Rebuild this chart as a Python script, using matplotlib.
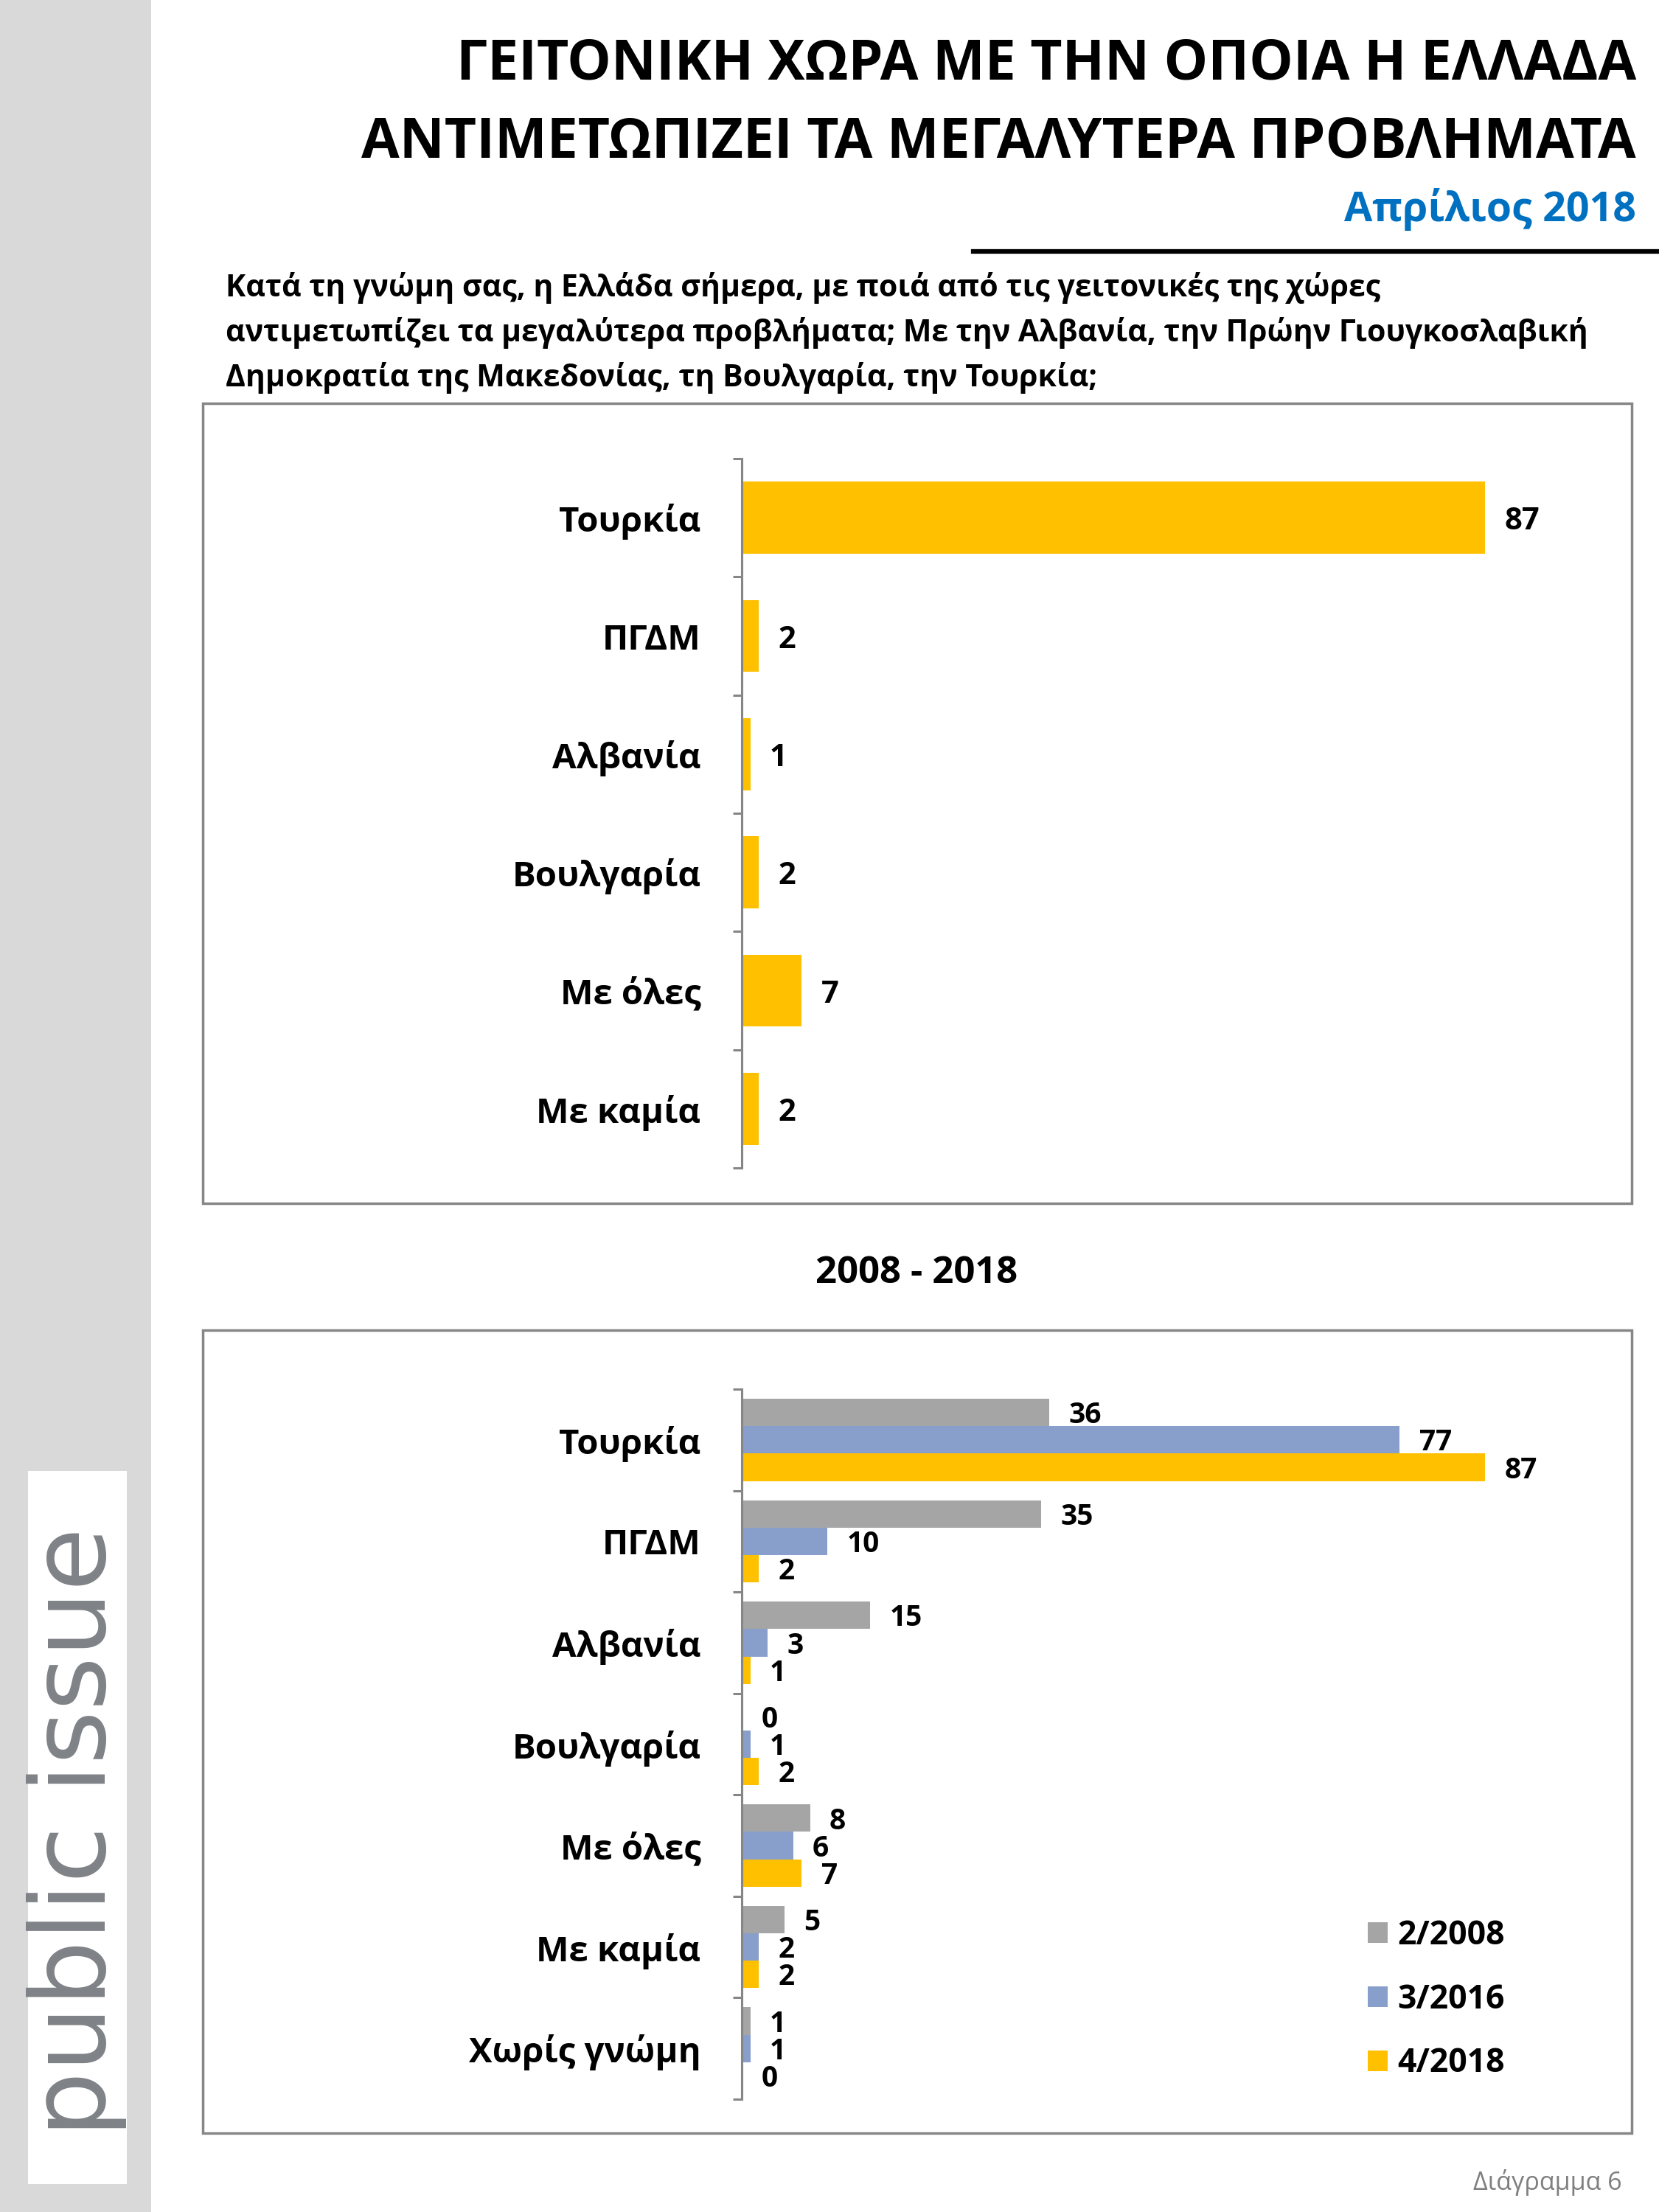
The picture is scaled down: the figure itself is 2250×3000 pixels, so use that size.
import matplotlib
matplotlib.use('Agg')
import matplotlib.pyplot as plt
from matplotlib.patches import Rectangle, Patch
import numpy as np

plt.rcParams['font.family'] = ['Open Sans', 'DejaVu Sans']

# data
top_cats = ['Τουρκία', 'ΠΓΔΜ', 'Αλβανία', 'Βουλγαρία', 'Με όλες', 'Με καμία']
top_vals = [87, 2, 1, 2, 7, 2]

bot_cats = ['Τουρκία', 'ΠΓΔΜ', 'Αλβανία', 'Βουλγαρία', 'Με όλες', 'Με καμία', 'Χωρίς γνώμη']
series_names = ['2/2008', '3/2016', '4/2018']
v2008 = [36, 35, 15, 0, 8, 5, 1]
v2016 = [77, 10, 3, 1, 6, 2, 1]
v2018 = [87, 2, 1, 2, 7, 2, 0]

YEL = '#FFC000'
GRY = '#A5A5A5'
BLU = '#879FCA'
EDGE = '#868686'

W, H = 2250, 3000
fig = plt.figure(figsize=(22.5, 30), dpi=100)

def fx(px):
    return px / W

def fy(py):
    return 1 - py / H

# sidebar + logo
fig.patches.append(Rectangle((0, 0), fx(205), 1, transform=fig.transFigure,
                             facecolor='#D9D9D9', edgecolor='none', zorder=0))
fig.patches.append(Rectangle((fx(38), fy(2962)), fx(172 - 38), (2962 - 1995) / H,
                             transform=fig.transFigure, facecolor='white',
                             edgecolor='none', zorder=1))
fig.text(fx(143), fy(2485), 'public issue', rotation=90, rotation_mode='anchor',
         ha='center', va='baseline', fontsize=101, color='#7F8286',
         family=['DejaVu Sans'])

# titles
fig.text(fx(2219), fy(107), 'ΓΕΙΤΟΝΙΚΗ ΧΩΡΑ ΜΕ ΤΗΝ ΟΠΟΙΑ Η ΕΛΛΑΔΑ', ha='right',
         va='baseline', fontsize=54, fontweight='bold')
fig.text(fx(2219), fy(214), 'ΑΝΤΙΜΕΤΩΠΙΖΕΙ ΤΑ ΜΕΓΑΛΥΤΕΡΑ ΠΡΟΒΛΗΜΑΤΑ', ha='right',
         va='baseline', fontsize=54, fontweight='bold')
fig.text(fx(2219), fy(300), 'Απρίλιος 2018', ha='right', va='baseline',
         fontsize=40, fontweight='bold', color='#0070C0')
fig.add_artist(plt.Line2D([fx(1320), 1], [fy(341), fy(341)], color='black',
                          linewidth=4.5, transform=fig.transFigure))

q_lines = ['Κατά τη γνώμη σας, η Ελλάδα σήμερα, με ποιά από τις γειτονικές της χώρες',
           'αντιμετωπίζει τα μεγαλύτερα προβλήματα; Με την Αλβανία, την Πρώην Γιουγκοσλαβική',
           'Δημοκρατία της Μακεδονίας, τη Βουλγαρία, την Τουρκία;']
for i, ln in enumerate(q_lines):
    fig.text(fx(306), fy(402 + i * 61), ln, ha='left', va='baseline',
             fontsize=29.5, fontweight='bold')

# chart frames
for (y0, y1) in [(547, 1632), (1804, 2893)]:
    fig.patches.append(Rectangle((fx(275), fy(y1)), fx(2213 - 275), (y1 - y0) / H,
                                 transform=fig.transFigure, facecolor='none',
                                 edgecolor=EDGE, linewidth=2.5, zorder=2))

fig.text(fx(1243), fy(1727), '2008 - 2018', ha='center', va='center',
         fontsize=36.5, fontweight='bold')

fig.text(fx(2200), fy(2960), 'Διάγραμμα 6', ha='right', va='center',
         fontsize=24.5, color='#7F7F7F')


def style_axis(ax, cats):
    n = len(cats)
    ax.set_xlim(0, 100)
    ax.set_ylim(n - 0.5, -0.5)
    for s in ['top', 'right', 'bottom']:
        ax.spines[s].set_visible(False)
    ax.spines['left'].set_color(EDGE)
    ax.spines['left'].set_linewidth(2.2)
    ax.set_xticks([])
    ax.set_yticks(np.arange(n))
    ax.set_yticklabels(cats, fontsize=34, fontweight='bold')
    ax.tick_params(axis='y', which='major', length=0, pad=40)
    ax.set_yticks(np.arange(n + 1) - 0.5, minor=True)
    ax.tick_params(axis='y', which='minor', length=9, width=2.2, color=EDGE)


# top chart
ax1 = fig.add_axes([fx(1006), fy(1584), fx(1159), (1584 - 622) / H])
y1 = np.arange(len(top_cats))
ax1.barh(y1, top_vals, height=0.61, color=YEL)
for yy, v in zip(y1, top_vals):
    ax1.annotate(str(v), (v, yy), xytext=(19, -4), textcoords='offset points',
                 ha='left', va='center', fontsize=30, fontweight='bold')
style_axis(ax1, top_cats)

# bottom chart
ax2 = fig.add_axes([fx(1006), fy(2847), fx(1159), (2847 - 1884) / H])
y2 = np.arange(len(bot_cats))
bh = 0.27
for k, (vals, col) in enumerate([(v2008, GRY), (v2016, BLU), (v2018, YEL)]):
    pos = y2 + (k - 1) * bh
    ax2.barh(pos, vals, height=bh, color=col)
    for yy, v in zip(pos, vals):
        ax2.annotate(str(v), (v, yy), xytext=(19, -3), textcoords='offset points',
                     ha='left', va='center', fontsize=28, fontweight='bold')
style_axis(ax2, bot_cats)

handles = [Patch(facecolor=c, edgecolor='none') for c in (GRY, BLU, YEL)]
fig.legend(handles, series_names, loc='center left',
           bbox_to_anchor=(fx(1855), fy(2712)), frameon=False,
           prop={'size': 32, 'weight': 'bold'}, handlelength=0.6,
           handleheight=0.6, handletextpad=0.3, labelspacing=0.94,
           borderpad=0, borderaxespad=0)

fig.savefig('out.png', dpi=100, facecolor='white')
